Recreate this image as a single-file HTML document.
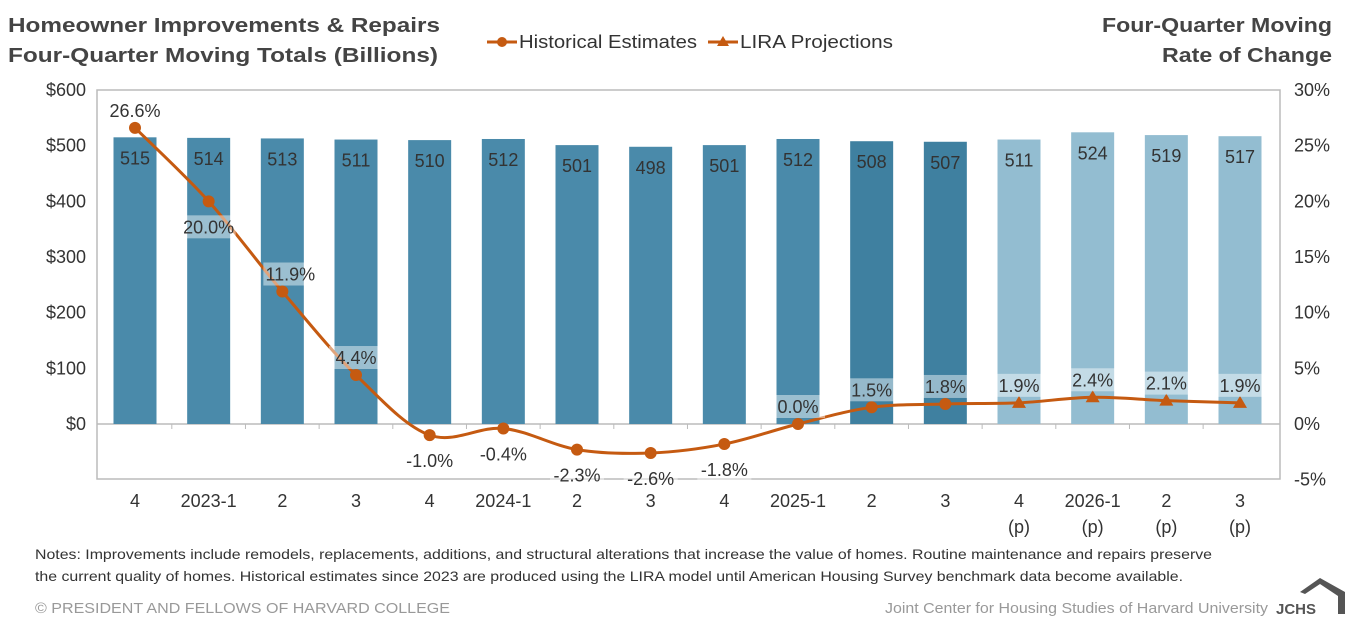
<!DOCTYPE html>
<html><head><meta charset="utf-8"><style>
body{margin:0;background:#fff;width:1365px;height:622px;overflow:hidden;font-family:"Liberation Sans",Arial,sans-serif;color:#333}
svg text{font-family:"Liberation Sans",Arial,sans-serif}
</style></head><body>
<svg id="c" width="1365" height="622">
<text x="8" y="32" font-size="20" font-weight="bold" fill="#444" textLength="432" lengthAdjust="spacingAndGlyphs">Homeowner Improvements &amp; Repairs</text>
<text x="8" y="62" font-size="20" font-weight="bold" fill="#444" textLength="430" lengthAdjust="spacingAndGlyphs">Four-Quarter Moving Totals (Billions)</text>
<text x="1332" y="32" font-size="20" font-weight="bold" fill="#444" text-anchor="end" textLength="230" lengthAdjust="spacingAndGlyphs">Four-Quarter Moving</text>
<text x="1332" y="62" font-size="20" font-weight="bold" fill="#444" text-anchor="end" textLength="170" lengthAdjust="spacingAndGlyphs">Rate of Change</text>
<g><line x1="487" y1="42" x2="517" y2="42" stroke="#c55a11" stroke-width="3"/><circle cx="502" cy="42" r="5" fill="#c55a11"/><text x="519" y="48" font-size="18" fill="#333" textLength="178" lengthAdjust="spacingAndGlyphs">Historical Estimates</text></g>
<g><line x1="708" y1="42" x2="738" y2="42" stroke="#c55a11" stroke-width="3"/><polygon points="723,36 729,46 717,46" fill="#c55a11"/><text x="740" y="48" font-size="18" fill="#333" textLength="153" lengthAdjust="spacingAndGlyphs">LIRA Projections</text></g>
<g id="plot"></g>
<text x="35" y="559" font-size="14" fill="#333" textLength="1177" lengthAdjust="spacingAndGlyphs">Notes: Improvements include remodels, replacements, additions, and structural alterations that increase the value of homes. Routine maintenance and repairs preserve</text>
<text x="35" y="581" font-size="14" fill="#333" textLength="1148" lengthAdjust="spacingAndGlyphs">the current quality of homes. Historical estimates since 2023 are produced using the LIRA model until American Housing Survey benchmark data become available.</text>
<text x="35" y="613" font-size="15" fill="#999" textLength="415" lengthAdjust="spacingAndGlyphs">© PRESIDENT AND FELLOWS OF HARVARD COLLEGE</text>
<text x="1268" y="613" font-size="15" fill="#999" text-anchor="end" textLength="383" lengthAdjust="spacingAndGlyphs">Joint Center for Housing Studies of Harvard University</text>
<g><polygon points="1300,592 1320,578 1345,592 1345,614 1338,614 1338,596 1320,584 1305,594" fill="#555"/><text x="1276" y="614" font-size="15" font-weight="bold" fill="#555">JCHS</text></g>
</svg>
<script>
const categories=["4","2023-1","2","3","4","2024-1","2","3","4","2025-1","2","3","4","2026-1","2","3"];
const projected=[false,false,false,false,false,false,false,false,false,false,false,false,true,true,true,true];
const totals=[515,514,513,511,510,512,501,498,501,512,508,507,511,524,519,517];
const rates=[26.6,20.0,11.9,4.4,-1.0,-0.4,-2.3,-2.6,-1.8,0.0,1.5,1.8,1.9,2.4,2.1,1.9];
const leftTicks=[0,100,200,300,400,500,600];
const rightTicks=[-5,0,5,10,15,20,25,30];
const labelPos=["above","below","above","above","below","below","below","below","below","above","above","above","above","above","above","above"];

const NS="http://www.w3.org/2000/svg";
const g=document.getElementById('plot');
const L=97,R=1280,T=90,B=479;
const yL=v=>424-(v/600)*(424-T);
const yR=v=>424-(v/30)*(424-T);
const xC=i=>135+i*(1240-135)/(categories.length-1);
function mk(t,a,p){const e=document.createElementNS(NS,t);for(const k in a)e.setAttribute(k,a[k]);(p||g).appendChild(e);return e;}
let e=mk('rect',{x:L,y:T,width:R-L,height:B-T,fill:'none',stroke:'#bbb','stroke-width':1.5});


e=mk('line',{x1:L,x2:R,y1:424,y2:424,stroke:'#bbb','stroke-width':1.5});


leftTicks.forEach(v=>{const t=mk('text',{x:86,y:yL(v)+6,'font-size':18,'text-anchor':'end',fill:'#333'});t.textContent='$'+v;

});
rightTicks.forEach(v=>{const t=mk('text',{x:1294,y:yR(v)+6,'font-size':18,fill:'#333'});t.textContent=v+'%';

});
const bw=43;
categories.forEach((c,i)=>{
 const x=xC(i);
 const col=projected[i]?'#93bdd1':(i>=10?'#3f80a0':'#4a8aaa');
 const r=mk('rect',{x:x-bw/2,y:yL(totals[i]),width:bw,height:424-yL(totals[i]),fill:col});
 
 
 const t=mk('text',{x:x,y:yL(totals[i])+27,'font-size':18,'text-anchor':'middle',fill:'#333'});t.textContent=totals[i];
 
 
 if(i<categories.length-1){mk('line',{x1:x+36.8,x2:x+36.8,y1:424,y2:429,stroke:'#bbb'});}
 const xl=mk('text',{x:x,y:507,'font-size':18,'text-anchor':'middle',fill:'#333'});xl.textContent=c;
 
 
 if(projected[i]){const p=mk('text',{x:x,y:533,'font-size':18,'text-anchor':'middle',fill:'#333'});p.textContent='(p)';
 
 }
});
const pts=rates.map((v,i)=>[xC(i),yR(v)]);
function seg(a,b){let d='';for(let i=a;i<b;i++){const p0=pts[Math.max(i-1,0)],p1=pts[i],p2=pts[i+1],p3=pts[Math.min(i+2,pts.length-1)];
 const c1=[p1[0]+(p2[0]-p0[0])/6,p1[1]+(p2[1]-p0[1])/6],c2=[p2[0]-(p3[0]-p1[0])/6,p2[1]-(p3[1]-p1[1])/6];
 d+=(i===a?'M'+p1[0]+','+p1[1]:'')+'C'+c1+' '+c2+' '+p2;}return d;}
const ln=mk('path',{d:seg(0,pts.length-1),fill:'none',stroke:'#c55a11','stroke-width':3});


rates.forEach((v,i)=>{
 const [x,y]=pts[i];
 let m;
 if(projected[i]) m=mk('polygon',{points:`${x},${y-7} ${x+7},${y+5} ${x-7},${y+5}`,fill:'#c55a11'});
 else m=mk('circle',{cx:x,cy:y,r:6,fill:'#c55a11'});
 
 
 const ly=labelPos[i]==='above'?y-29:y+14;
 const lx=(i===2)?x+8:x;
 const lab=v.toFixed(1)+'%';
 if(i>0){mk('rect',{x:lx-27,y:ly,width:54,height:23,fill:'rgba(255,255,255,0.45)'});}
 const t=mk('text',{x:lx,y:ly+18,'font-size':18,'text-anchor':'middle',fill:'#333'});t.textContent=lab;
 
 
});
</script>
</body></html>
